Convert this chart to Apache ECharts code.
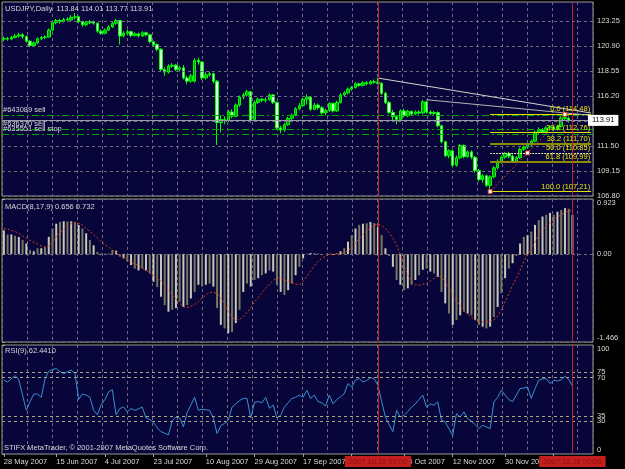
<!DOCTYPE html>
<html>
<head>
<meta charset="utf-8">
<script src="https://cdn.jsdelivr.net/npm/echarts@6/dist/echarts.min.js"></script>
<style>
html, body { margin: 0; padding: 0; background: #000; }
#chart { width: 625px; height: 469px; }
</style>
</head>
<body>
<div id="chart"></div>
<script>
// USDJPY daily, MetaTrader look: price + MACD + RSI
var startDay = Date.UTC(2007, 4, 28);
var barCount = 158; // 153 bars + empty shift on the right
var monthNames = ['Jan','Feb','Mar','Apr','May','Jun','Jul','Aug','Sep','Oct','Nov','Dec'];

// [open, close, low, high]
var ohlc = [
  [121.55,121.60,121.35,121.80],[121.60,121.55,121.40,121.75],[121.55,121.70,121.45,121.85],[121.70,121.85,121.60,122.05],[121.85,121.95,121.70,122.15],
  [121.95,121.80,121.60,122.10],[121.80,121.35,121.20,121.90],[121.35,120.95,120.80,121.45],[120.95,121.20,120.85,121.35],[121.20,121.60,121.10,121.70],
  [121.60,121.70,121.45,121.85],[121.70,121.75,121.55,121.90],[121.75,122.40,121.70,122.55],[122.40,123.10,122.30,123.25],[123.10,123.30,122.95,123.45],
  [123.30,123.20,123.00,123.45],[123.20,123.40,123.10,123.55],[123.40,123.35,123.20,123.60],[123.35,123.60,123.25,123.80],[123.60,123.65,123.40,124.00],
  [123.65,123.20,123.05,123.75],[123.20,122.90,122.70,123.30],[122.90,123.10,122.80,123.25],[123.10,123.20,122.95,123.35],[123.20,123.05,122.90,123.30],
  [123.05,122.30,122.15,123.10],[122.30,122.10,121.95,122.45],[122.10,122.40,122.00,122.55],[122.40,122.70,122.30,122.85],[122.70,123.05,122.60,123.20],
  [123.05,123.30,122.90,123.45],[123.30,121.85,121.05,123.35],[121.85,122.10,121.70,122.30],[122.10,122.25,121.90,122.45],[122.25,121.90,121.75,122.35],
  [121.90,122.05,121.80,122.20],[122.05,121.85,121.70,122.15],[121.85,122.15,121.75,122.30],[122.15,121.95,121.80,122.25],[121.95,121.30,121.15,122.05],
  [121.30,121.05,120.85,121.40],[121.05,120.60,120.40,121.15],[120.60,118.70,118.50,120.70],[118.70,118.45,118.10,118.90],[118.45,119.00,118.30,119.20],
  [119.00,119.10,118.85,119.30],[119.10,118.70,118.55,119.20],[118.70,118.85,118.50,119.05],[118.85,117.90,117.75,119.10],[117.90,117.60,117.30,118.10],
  [117.60,118.10,117.45,118.30],[117.60,119.55,117.45,119.75],[119.55,119.40,119.15,119.80],[119.40,117.90,117.70,119.50],[117.90,118.20,117.75,118.45],
  [118.20,118.30,118.00,118.50],[118.30,117.60,117.40,118.40],[117.60,113.70,111.60,117.70],[113.70,114.00,112.80,114.40],[114.00,113.90,113.55,114.30],
  [113.90,114.70,113.75,114.90],[114.70,114.30,114.10,114.95],[114.30,115.35,114.20,115.50],[115.35,116.10,115.20,116.25],[116.10,116.30,115.90,116.50],
  [116.30,116.60,116.15,116.80],[116.60,113.90,113.70,116.70],[114.00,115.60,113.85,115.80],[115.60,115.90,115.45,116.05],[115.90,115.80,115.60,116.00],
  [115.80,115.85,115.60,116.05],[115.85,116.30,115.75,116.45],[116.30,115.60,115.45,116.40],[115.60,113.20,113.05,115.70],[113.20,113.00,112.70,113.40],
  [113.00,113.50,112.85,113.65],[113.50,114.10,113.40,114.25],[114.10,114.40,113.95,114.55],[114.40,115.00,114.30,115.15],[115.00,115.30,114.85,115.55],
  [115.30,115.90,115.20,116.05],[115.90,116.10,115.40,116.35],[116.10,114.95,114.80,116.20],[114.95,115.35,114.85,115.55],[115.35,115.10,114.90,115.50],
  [115.10,114.60,114.45,115.25],[114.60,114.85,114.40,115.00],[114.85,115.50,114.70,115.65],[115.50,114.80,114.65,115.60],[114.80,115.60,114.70,115.75],
  [115.60,116.30,115.50,116.45],[116.30,116.50,116.15,116.65],[116.50,116.85,116.35,117.00],[116.85,117.00,116.70,117.15],[117.00,117.35,116.90,117.50],
  [117.35,117.20,117.05,117.45],[117.20,117.45,117.10,117.60],[117.45,117.35,117.20,117.60],[117.35,117.55,117.25,117.70],[117.55,117.50,117.35,117.75],
  [117.50,117.40,117.25,117.90],[117.40,116.45,116.30,117.50],[116.45,115.60,115.45,116.60],[115.60,114.65,114.50,115.70],[114.65,114.25,113.80,114.90],
  [114.25,114.00,113.55,114.40],[114.00,114.80,113.90,114.95],[114.80,114.35,114.20,115.00],[114.35,114.75,114.20,114.90],[114.75,114.50,114.35,114.85],
  [114.50,114.70,114.40,114.85],[114.70,114.60,114.45,114.85],[114.60,115.65,114.50,115.85],[115.65,114.70,114.55,115.75],[114.70,114.55,114.40,114.85],
  [114.55,114.65,114.40,114.80],[114.65,113.40,113.25,114.75],[113.40,111.90,111.75,113.50],[111.90,110.60,110.45,112.00],[110.60,111.05,110.35,111.20],
  [111.05,109.70,109.50,111.15],[109.70,110.40,109.55,110.60],[110.40,111.55,110.25,111.70],[111.55,110.50,110.35,111.65],[110.50,110.95,110.40,111.10],
  [110.95,110.45,110.25,111.10],[110.45,109.20,109.00,110.55],[109.20,108.35,108.20,109.35],[108.35,108.70,108.05,108.85],[108.70,107.80,107.65,108.80],
  [107.80,108.60,107.21,108.75],[108.60,109.45,108.45,109.60],[109.45,110.05,109.30,110.25],[110.05,110.45,109.85,110.60],[110.45,110.80,110.30,110.95],
  [110.80,110.55,110.35,110.95],[110.55,110.05,109.90,110.70],[110.05,110.40,109.95,110.55],[110.40,111.20,110.30,111.35],[111.20,111.40,111.05,111.55],
  [111.40,111.65,111.25,111.80],[111.65,111.95,111.50,112.10],[111.95,112.80,111.85,112.95],[112.80,113.05,112.65,113.25],[113.05,112.85,112.70,113.20],
  [112.85,113.20,112.75,113.35],[113.20,113.30,113.00,113.45],[113.30,113.05,112.90,113.45],[113.05,113.35,112.95,113.50],[113.35,114.15,113.25,114.30],
  [114.15,114.10,113.85,114.48],[114.10,113.85,113.70,114.25],[113.84,113.91,113.77,114.01]
];

var macdMain = [
  0.40, 0.33, 0.33, 0.31, 0.29, 0.24, 0.18, 0.07, 0.05, 0.10,
  0.10, 0.12, 0.29, 0.43, 0.51, 0.54, 0.55, 0.55, 0.55, 0.54,
  0.49, 0.43, 0.35, 0.24, 0.15, 0.04, 0.01, 0.01, 0.01, 0.07,
  0.06, -0.04, -0.07, -0.12, -0.18, -0.24, -0.27, -0.24, -0.27, -0.32,
  -0.46, -0.55, -0.71, -0.85, -0.96, -0.93, -0.90, -0.79, -0.88, -0.85,
  -0.74, -0.63, -0.51, -0.54, -0.51, -0.49, -0.54, -0.90, -1.18, -1.24,
  -1.32, -1.30, -1.15, -0.93, -0.63, -0.49, -0.54, -0.43, -0.40, -0.35,
  -0.32, -0.27, -0.29, -0.51, -0.63, -0.68, -0.60, -0.49, -0.35, -0.21,
  -0.07, 0.01, 0.02, 0.02, 0.01, -0.01, 0.00, 0.01, -0.01, 0.02,
  0.05, 0.10, 0.21, 0.32, 0.43, 0.49, 0.51, 0.52, 0.54, 0.52,
  0.46, 0.32, 0.10, -0.03, -0.21, -0.43, -0.51, -0.60, -0.57, -0.51,
  -0.43, -0.35, -0.26, -0.24, -0.29, -0.32, -0.38, -0.63, -0.82, -0.99,
  -1.18, -1.10, -1.02, -0.96, -0.99, -1.02, -1.10, -1.18, -1.21, -1.24,
  -1.21, -1.05, -0.88, -0.65, -0.40, -0.24, -0.15, -0.03, 0.18, 0.29,
  0.32, 0.38, 0.49, 0.57, 0.63, 0.66, 0.69, 0.66, 0.71, 0.74,
  0.77, 0.76, 0.656
];

var macdSignal = [
  0.43, 0.42, 0.40, 0.38, 0.35, 0.31, 0.27, 0.23, 0.20, 0.17,
  0.14, 0.12, 0.14, 0.20, 0.29, 0.36, 0.42, 0.47, 0.51, 0.53,
  0.52, 0.49, 0.43, 0.38, 0.33, 0.27, 0.21, 0.16, 0.12, 0.07,
  0.03, -0.01, -0.05, -0.09, -0.13, -0.16, -0.19, -0.23, -0.27, -0.31,
  -0.35, -0.39, -0.45, -0.53, -0.61, -0.68, -0.75, -0.82, -0.88, -0.89,
  -0.87, -0.84, -0.79, -0.73, -0.68, -0.64, -0.63, -0.66, -0.74, -0.83,
  -0.95, -1.05, -1.10, -1.09, -1.04, -0.97, -0.89, -0.80, -0.72, -0.64,
  -0.57, -0.50, -0.44, -0.39, -0.40, -0.43, -0.45, -0.47, -0.50, -0.51,
  -0.45, -0.37, -0.28, -0.19, -0.12, -0.07, -0.03, 0.00, 0.00, 0.00,
  0.00, 0.02, 0.06, 0.11, 0.19, 0.26, 0.33, 0.39, 0.44, 0.49,
  0.50, 0.48, 0.43, 0.36, 0.27, 0.15, 0.00, -0.20, -0.34, -0.45,
  -0.51, -0.52, -0.50, -0.49, -0.45, -0.40, -0.36, -0.38, -0.45, -0.56,
  -0.68, -0.78, -0.86, -0.93, -1.00, -1.05, -1.09, -1.12, -1.13, -1.13,
  -1.12, -1.10, -1.03, -0.93, -0.79, -0.66, -0.52, -0.40, -0.27, -0.12,
  -0.01, 0.10, 0.20, 0.33, 0.41, 0.47, 0.53, 0.58, 0.62, 0.66,
  0.70, 0.72, 0.732
];

var rsi = [
  67.7, 66, 69, 72, 68, 54, 40, 48, 55, 55,
  52, 69, 76, 77.5, 78.4, 75.5, 73.8, 75.5, 77, 73.8,
  50, 55, 54, 52, 40, 36, 45, 50, 57, 59,
  36, 41.7, 43.2, 38.6, 41.7, 40, 41.5, 43, 33, 31.6,
  29, 24, 20.5, 19, 17.5, 30.5, 34, 33, 25, 38,
  45, 52, 40, 41, 40.5, 40, 33, 18.7, 26, 28,
  31, 43, 46, 49, 51, 51, 33, 47.5, 48, 47,
  52, 42, 45, 33, 35.5, 43, 47, 51, 52, 54,
  52, 58.5, 51, 54, 48, 47, 44, 54, 46, 50,
  52.4, 55.4, 64.6, 61.5, 67.7, 69.2, 66, 67.5, 70, 69,
  63, 48, 34, 27, 20.5, 40, 34, 35.5, 39, 43,
  46, 50, 54, 43, 46, 44.8, 47.8, 31, 29.4, 23,
  17.2, 37, 34, 38.6, 32.5, 30, 27, 23.3, 26.3, 24.8,
  23.3, 47.8, 52, 58.5, 54, 50, 48, 54, 60, 60.5,
  61.5, 51, 60, 67.7, 69, 69.2, 64.6, 67.7, 67, 68,
  71.3, 68.5, 62.441
];

var priceTicks = [106.80, 109.15, 111.50, 113.85, 116.20, 118.55, 120.90, 123.25];
var priceLabels = [106.80, 109.15, 111.50, 116.20, 118.55, 120.90, 123.25];
var lastPrice = 113.91;
var rsiLabels = [0, 30, 35, 70, 75, 100];
var rsiLevels = [30, 35, 70, 75];
var dateTicks = ['28 May 2007', '15 Jun 2007', '4 Jul 2007', '23 Jul 2007', '10 Aug 2007', '29 Aug 2007',
  '17 Sep 2007', '4 Oct 2007', '24 Oct 2007', '12 Nov 2007', '30 Nov 2007', '19 Dec 2007'];
var orderNames = ['#643089 sell', '#636370 sell', '#635551 sell stop'];
var orderPrices = [114.41, 113.10, 112.63];
var fibRatios = ['0.0', '23.6', '38.2', '50.0', '61.8', '100.0'];
var fibPrices = [114.48, 112.76, 111.70, 110.85, 109.99, 107.21];
var cursorBars = [100, 152];
var cursorTexts = ['2007.10.15 00:00', '2007.12.26 00:00'];

var dates = [];
var t = startDay;
while (dates.length < barCount) {
  var d = new Date(t);
  var wd = d.getUTCDay();
  if (wd !== 0 && wd !== 6) {
    dates.push(d.getUTCDate() + ' ' + monthNames[d.getUTCMonth()] + ' ' + d.getUTCFullYear());
  }
  t += 86400000;
}

var font = 'Liberation Sans';
var txt = '#d8d8d8';
var gridDash = { color: '#6c6c7c', type: [3, 3], width: 1 };
var navy = '#07053a';

var myChart = echarts.init(document.getElementById('chart'));

// markLines on the price panel
var mainLines = [];
priceTicks.forEach(function (v) {
  mainLines.push({ yAxis: v, lineStyle: gridDash });
});
orderNames.forEach(function (n, i) {
  mainLines.push({
    yAxis: orderPrices[i],
    lineStyle: { color: '#00a800', type: [7, 3, 2, 3], width: 1 },
    label: { show: true, position: 'insideStartTop', formatter: n, color: txt, fontSize: 7.5, fontFamily: font, distance: 1 }
  });
});
mainLines.push({
  yAxis: lastPrice,
  lineStyle: { color: '#9c9cae', type: 'solid', width: 1 },
  label: { show: true, position: 'end', formatter: lastPrice.toFixed(2), backgroundColor: '#ffffff', color: '#000000',
    padding: [2, 4, 1, 4], fontSize: 7.5, fontFamily: font, distance: -5 }
});
fibRatios.forEach(function (r, i) {
  var thick = (r === '38.2' || r === '61.8');
  mainLines.push([
    { coord: [dates[130], fibPrices[i]],
      lineStyle: { color: thick ? '#8c8c00' : (r === '50.0' ? '#e6e6a0' : '#e0e000'), width: thick ? 2 : 1,
        type: r === '50.0' ? [2, 1] : 'solid' },
      label: { show: true, position: 'insideEndTop', formatter: r + ' (' + fibPrices[i].toFixed(2) + ')',
        color: '#e8e800', fontSize: 7.5, fontFamily: font, distance: 1 } },
    { coord: [dates[157], fibPrices[i]] }
  ]);
});
mainLines.push([
  { coord: [dates[100], 117.89], lineStyle: { color: '#d4d4d4', width: 1, type: 'solid' } },
  { coord: [dates[157], 114.60] }
]);
mainLines.push([
  { coord: [dates[113], 115.85], lineStyle: { color: '#b4b4b4', width: 1, type: 'solid' } },
  { coord: [dates[157], 114.38] }
]);
mainLines.push([
  { coord: [dates[130], 107.21], lineStyle: { color: '#c83c1e', width: 1, type: [2, 2] } },
  { coord: [dates[150], 114.48] }
]);
cursorBars.forEach(function (b) {
  mainLines.push({ xAxis: dates[b], lineStyle: { color: '#c42020', type: 'solid', width: 1 } });
});

var macdLines = cursorBars.map(function (b) {
  return { xAxis: dates[b], lineStyle: { color: '#c42020', type: 'solid', width: 1 } };
});

var rsiLines = [];
rsiLevels.forEach(function (v) {
  rsiLines.push({ yAxis: v, lineStyle: { color: '#a8a880', type: [3, 3], width: 1 } });
});
cursorBars.forEach(function (b, i) {
  rsiLines.push({
    xAxis: dates[b],
    lineStyle: { color: '#c42020', type: 'solid', width: 1 },
    label: { show: true, position: 'start', formatter: cursorTexts[i], backgroundColor: '#c41e1e', color: '#8a1010',
      padding: [2, 4, 1, 4], fontSize: 7.5, fontFamily: font, distance: 2 }
  });
});

function hiddenCat(g) {
  return {
    type: 'category', gridIndex: g, data: dates, boundaryGap: true,
    axisLine: { show: false }, axisTick: { show: false }, axisLabel: { show: false }, splitLine: { show: false }
  };
}
function vGrid(g) {
  return {
    type: 'value', gridIndex: g, position: 'top', min: 0, max: 591 / 25, interval: 1,
    axisLine: { show: false }, axisTick: { show: false }, axisLabel: { show: false },
    splitLine: { show: true, lineStyle: gridDash }
  };
}

var bottomAxis = hiddenCat(2);
bottomAxis.axisLabel = {
  show: true, interval: 0, align: 'left', margin: 4, color: txt, fontSize: 7.5, fontFamily: font,
  formatter: function (v) { return dateTicks.indexOf(v) >= 0 ? v : ''; }
};
bottomAxis.axisTick = {
  show: true, alignWithLabel: true, length: 3, lineStyle: { color: '#a0a0a0' },
  interval: function (i, v) { return dateTicks.indexOf(v) >= 0; }
};

var labelStyle = { color: txt, fontSize: 7.5, fontFamily: font, margin: 4 };

option = {
  backgroundColor: '#000000',
  animation: false,
  title: [
    { text: 'USDJPY,Daily  113.84 114.01 113.77 113.91', left: 5, top: 5, padding: 0,
      textStyle: { color: txt, fontSize: 7.5, fontWeight: 'normal', fontFamily: font } },
    { text: 'MACD(8,17,9) 0.656 0.732', left: 5, top: 203, padding: 0,
      textStyle: { color: txt, fontSize: 7.5, fontWeight: 'normal', fontFamily: font } },
    { text: 'RSI(9) 62.4410', left: 5, top: 347, padding: 0,
      textStyle: { color: txt, fontSize: 7.5, fontWeight: 'normal', fontFamily: font } },
    { text: 'STIFX MetaTrader, © 2001-2007 MetaQuotes Software Corp.', left: 4, top: 444, padding: 0,
      textStyle: { color: txt, fontSize: 7.5, fontWeight: 'normal', fontFamily: font } }
  ],
  grid: [
    { left: 2, top: 2, width: 591, height: 194, show: true, backgroundColor: navy, borderColor: '#9a9a9a', borderWidth: 1 },
    { left: 2, top: 199, width: 591, height: 143, show: true, backgroundColor: navy, borderColor: '#9a9a9a', borderWidth: 1 },
    { left: 2, top: 345, width: 591, height: 109, show: true, backgroundColor: navy, borderColor: '#9a9a9a', borderWidth: 1 }
  ],
  xAxis: [hiddenCat(0), hiddenCat(1), bottomAxis, vGrid(0), vGrid(1), vGrid(2)],
  yAxis: [
    {
      type: 'value', gridIndex: 0, position: 'right', min: 106.8, max: 125.04,
      axisLine: { show: false },
      axisTick: { show: true, length: 3, lineStyle: { color: '#a0a0a0' }, customValues: priceLabels },
      axisLabel: Object.assign({ customValues: priceLabels, formatter: function (v) { return v.toFixed(2); } }, labelStyle),
      splitLine: { show: false }
    },
    {
      type: 'value', gridIndex: 1, position: 'right', min: -1.466, max: 0.923, interval: 1.466,
      axisLine: { show: false },
      axisTick: { show: true, length: 3, lineStyle: { color: '#a0a0a0' } },
      axisLabel: Object.assign({
        verticalAlignMaxLabel: 'top', verticalAlignMinLabel: 'bottom',
        formatter: function (v) { return Math.abs(v) < 1e-9 ? '0.00' : v.toFixed(3); }
      }, labelStyle),
      splitLine: { show: true, lineStyle: gridDash }
    },
    {
      type: 'value', gridIndex: 2, position: 'right', min: 0, max: 100,
      axisLine: { show: false },
      axisTick: { show: true, length: 3, lineStyle: { color: '#a0a0a0' }, customValues: rsiLabels },
      axisLabel: Object.assign({ customValues: rsiLabels, verticalAlignMaxLabel: 'top', verticalAlignMinLabel: 'bottom' }, labelStyle),
      splitLine: { show: false }
    }
  ],
  series: [
    {
      name: 'USDJPY', type: 'candlestick', xAxisIndex: 0, yAxisIndex: 0,
      data: ohlc, barWidth: 3,
      itemStyle: { color: '#00a000', borderColor: '#00ff00', color0: '#d0ffd0', borderColor0: '#00ff00', borderWidth: 1 },
      markLine: { silent: true, symbol: ['none', 'none'], label: { show: false }, data: mainLines },
      markPoint: {
        silent: true, symbol: 'rect', symbolSize: 4,
        itemStyle: { color: '#ffffff', borderColor: '#c83c1e', borderWidth: 1 },
        label: { show: false },
        data: [
          { coord: [dates[130], 107.21] },
          { coord: [dates[140], 110.85] },
          { coord: [dates[150], 114.48] }
        ]
      }
    },
    {
      name: 'MACD', type: 'bar', xAxisIndex: 1, yAxisIndex: 1,
      data: macdMain, barWidth: 2,
      itemStyle: { color: function (p) { return p.dataIndex % 2 ? '#77775a' : '#c8c8bc'; } },
      markLine: { silent: true, symbol: ['none', 'none'], label: { show: false }, data: macdLines }
    },
    {
      name: 'Signal', type: 'line', xAxisIndex: 1, yAxisIndex: 1,
      data: macdSignal, symbol: 'none', z: 3,
      lineStyle: { color: '#e03c14', width: 1, type: [2, 2] }
    },
    {
      name: 'RSI', type: 'line', xAxisIndex: 2, yAxisIndex: 2,
      data: rsi, symbol: 'none',
      lineStyle: { color: '#3a90d4', width: 1 },
      markLine: { silent: true, symbol: ['none', 'none'], label: { show: false }, data: rsiLines }
    }
  ]
};

myChart.setOption(option);
</script>
</body>
</html>
